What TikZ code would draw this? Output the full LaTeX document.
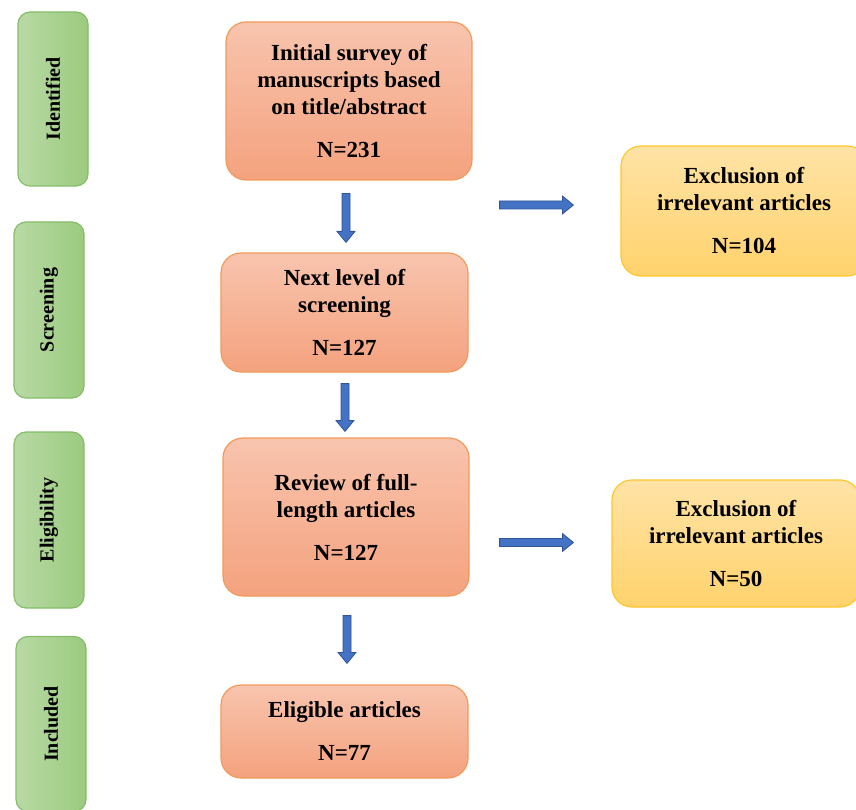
\documentclass[tikz,border=0pt]{standalone}
\usepackage{fontspec}
\usepackage{graphicx}
\setmainfont{Liberation Serif}
\usetikzlibrary{calc}
\definecolor{orangetop}{HTML}{F8C4AE}
\definecolor{orangebot}{HTML}{F4A27E}
\definecolor{orangeedge}{HTML}{F29A5C}
\definecolor{yellowtop}{HTML}{FFE3A6}
\definecolor{yellowbot}{HTML}{FFD26C}
\definecolor{yellowedge}{HTML}{FFC72C}
\definecolor{greenleft}{HTML}{B9D9A5}
\definecolor{greenright}{HTML}{9BCB7F}
\definecolor{greenedge}{HTML}{85BD69}
\definecolor{bluefill}{HTML}{4472C4}
\definecolor{blueedge}{HTML}{2F5597}
\tikzset{
  stagebox/.style={rounded corners=20pt,draw=orangeedge,line width=1.2pt,
    top color=orangetop,bottom color=orangebot,inner sep=0pt,
    minimum width=246pt,align=center,font=\bfseries\fontsize{23}{27}\selectfont},
  dropbox/.style={stagebox,draw=yellowedge,top color=yellowtop,bottom color=yellowbot},
  phasebox/.style={rounded corners=12pt,draw=greenedge,line width=1.2pt,
    left color=greenleft,right color=greenright,inner sep=0pt,
    minimum width=70pt,font=\bfseries\fontsize{20}{24}\selectfont},
  blockarr/.style={fill=bluefill,draw=blueedge,line width=0.8pt,
    to path={($(\tikztotarget)!11pt!(\tikztostart)$) coordinate (arrhead)
      ($(\tikztostart)!4pt!90:(\tikztotarget)$)
      -- ($(arrhead)!4pt!90:(\tikztotarget)$)
      -- ($(arrhead)!9pt!90:(\tikztotarget)$)
      -- (\tikztotarget)
      -- ($(arrhead)!9pt!-90:(\tikztotarget)$)
      -- ($(arrhead)!4pt!-90:(\tikztotarget)$)
      -- ($(\tikztostart)!4pt!-90:(\tikztotarget)$)
      -- cycle}}
}

\begin{document}
\begin{tikzpicture}[x=1pt,y=-1pt]
  \useasboundingbox (0,0) rectangle (856,810);
  \node[phasebox,minimum height=174pt] (ident) at (53,99) {\rotatebox{90}{Identified}};
  \node[phasebox,minimum height=176pt] (screen) at (49,310) {\rotatebox{90}{Screening}};
  \node[phasebox,minimum height=176pt] (eligib) at (49,520) {\rotatebox{90}{Eligibility}};
  \node[phasebox,minimum height=175pt] (incl) at (51,724) {\rotatebox{90}{Included}};
  \node[stagebox,minimum height=158pt] (init) at (349,101)
    {Initial survey of\\manuscripts based\\on title/abstract\\[16pt]N=231};
  \node[stagebox,minimum height=119pt,minimum width=247pt] (next) at (344.5,312.5)
    {Next level of\\screening\\[16pt]N=127};
  \node[stagebox,minimum height=158pt] (review) at (346,517)
    {Review of full-\\length articles\\[16pt]N=127};
  \node[stagebox,minimum height=93pt,minimum width=247pt] (elig) at (344.5,731.5)
    {Eligible articles\\[16pt]N=77};
  \node[dropbox,minimum height=130pt] (excl1) at (744,211)
    {Exclusion of\\irrelevant articles\\[16pt]N=104};
  \node[dropbox,minimum height=127pt,minimum width=248pt] (excl2) at (736,543.5)
    {Exclusion of\\irrelevant articles\\[16pt]N=50};
  \draw[blockarr] ($(init.south)+(-3,13)$) to ($(next.north)+(1.5,-10)$);
  \draw[blockarr] ($(next.south)+(0.5,11)$) to ($(review.north)+(-1,-6)$);
  \draw[blockarr] ($(review.south)+(1,19)$) to ($(elig.north)+(2.5,-21)$);
  \draw[blockarr] ($(init.east |- excl1.west)+(27,-6)$) to ($(excl1.west)+(-47,-6)$);
  \draw[blockarr] ($(review.east |- excl2.west)+(30,-1)$) to ($(excl2.west)+(-38,-1)$);
\end{tikzpicture}
\end{document}
